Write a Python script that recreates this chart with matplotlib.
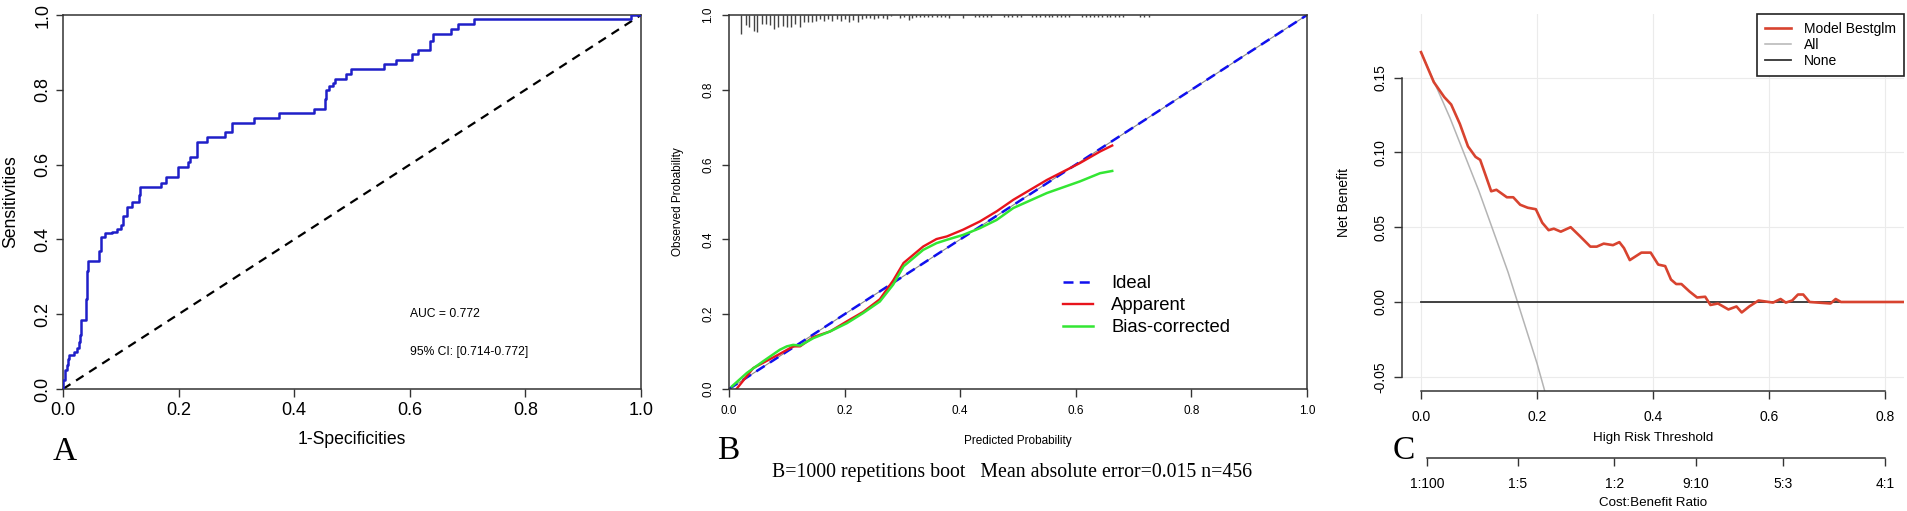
import matplotlib
matplotlib.use('Agg')
import matplotlib.pyplot as plt
from matplotlib.ticker import FormatStrFormatter

plt.rcParams['font.family'] = ['Liberation Sans', 'DejaVu Sans']

# ---- panel A: ROC (x where the step happens, tpr after the step)
roc_fpr = [0.0, 0.0, 0.003, 0.007, 0.009, 0.011, 0.019, 0.024, 0.027, 0.029, 0.031,
           0.039, 0.041, 0.044, 0.063, 0.065, 0.073, 0.084, 0.093, 0.100, 0.103,
           0.110, 0.120, 0.131, 0.133, 0.170, 0.178, 0.199, 0.217, 0.219, 0.231,
           0.250, 0.281, 0.293, 0.330, 0.373, 0.434, 0.453, 0.455, 0.460, 0.467,
           0.470, 0.490, 0.499, 0.556, 0.576, 0.603, 0.615, 0.635, 0.640, 0.671,
           0.684, 0.711, 0.983, 1.0]
roc_tpr = [0.0, 0.025, 0.05, 0.065, 0.08, 0.09, 0.10, 0.11, 0.125, 0.145, 0.185,
           0.24, 0.315, 0.343, 0.37, 0.407, 0.417, 0.42, 0.428, 0.438, 0.462,
           0.487, 0.50, 0.52, 0.541, 0.552, 0.567, 0.593, 0.607, 0.62, 0.66,
           0.673, 0.686, 0.711, 0.724, 0.738, 0.75, 0.775, 0.80, 0.81, 0.818,
           0.828, 0.842, 0.855, 0.869, 0.88, 0.895, 0.907, 0.93, 0.948, 0.962,
           0.975, 0.989, 1.0, 1.0]
auc_text = 'AUC = 0.772'
ci_text = '95% CI: [0.714-0.772]'

# ---- panel B: calibration
app_x = [0.013, 0.042, 0.088, 0.111, 0.123, 0.146, 0.175, 0.204, 0.232, 0.261, 0.284,
         0.302, 0.319, 0.336, 0.359, 0.377, 0.405, 0.434, 0.463, 0.492, 0.550,
         0.607, 0.642, 0.663]
app_y = [0.0, 0.056, 0.094, 0.114, 0.114, 0.139, 0.154, 0.181, 0.206, 0.240, 0.290,
         0.337, 0.359, 0.381, 0.401, 0.408, 0.426, 0.448, 0.475, 0.506, 0.559,
         0.604, 0.635, 0.651]
bc_x = [0.005, 0.031, 0.059, 0.088, 0.100, 0.111, 0.123, 0.146, 0.175, 0.204, 0.232,
        0.261, 0.284, 0.302, 0.319, 0.336, 0.359, 0.377, 0.405, 0.434, 0.463,
        0.492, 0.550, 0.607, 0.642, 0.663]
bc_y = [0.007, 0.043, 0.074, 0.105, 0.114, 0.118, 0.116, 0.136, 0.154, 0.176, 0.203,
        0.234, 0.279, 0.328, 0.350, 0.372, 0.390, 0.399, 0.412, 0.430, 0.452,
        0.484, 0.524, 0.555, 0.577, 0.583]
ideal_x = [0.0, 1.0]
ideal_y = [0.0, 1.0]
rug_x = [0.020, 0.029, 0.035, 0.043, 0.049, 0.057, 0.064, 0.071, 0.078, 0.085, 0.093,
         0.100, 0.107, 0.114, 0.122, 0.129, 0.136, 0.143, 0.150, 0.157, 0.165,
         0.172, 0.179, 0.186, 0.194, 0.201, 0.208, 0.215, 0.223, 0.230, 0.237,
         0.244, 0.251, 0.258, 0.266, 0.273, 0.280, 0.296, 0.302, 0.311, 0.316,
         0.324, 0.331, 0.338, 0.345, 0.352, 0.359, 0.367, 0.374, 0.381, 0.404,
         0.426, 0.433, 0.440, 0.447, 0.454, 0.476, 0.483, 0.490, 0.498, 0.505,
         0.524, 0.531, 0.538, 0.546, 0.553, 0.559, 0.567, 0.575, 0.581, 0.588,
         0.610, 0.617, 0.625, 0.631, 0.639, 0.646, 0.654, 0.660, 0.668, 0.675,
         0.682, 0.711, 0.718, 0.726]
rug_h = [0.051, 0.027, 0.031, 0.043, 0.045, 0.024, 0.024, 0.027, 0.037, 0.031, 0.029,
         0.031, 0.033, 0.024, 0.033, 0.020, 0.018, 0.018, 0.016, 0.011, 0.016,
         0.011, 0.016, 0.011, 0.016, 0.011, 0.020, 0.013, 0.020, 0.011, 0.009,
         0.009, 0.011, 0.009, 0.009, 0.011, 0.003, 0.009, 0.006, 0.013, 0.009,
         0.006, 0.0045, 0.0045, 0.006, 0.0045, 0.006, 0.0045, 0.006, 0.009, 0.009,
         0.0045, 0.0045, 0.0045, 0.0045, 0.0045, 0.0045, 0.0045, 0.0045, 0.0045, 0.0045,
         0.005, 0.005, 0.005, 0.005, 0.005, 0.005, 0.005, 0.005, 0.005, 0.005,
         0.005, 0.005, 0.005, 0.005, 0.005, 0.005, 0.005, 0.005, 0.005, 0.005,
         0.005, 0.005, 0.005, 0.005]
calib_note = 'B=1000 repetitions boot   Mean absolute error=0.015 n=456'

# ---- panel C: decision curve
dca_x = [0.0, 0.022, 0.040, 0.052, 0.067, 0.081, 0.094, 0.102, 0.112, 0.121, 0.130,
         0.148, 0.159, 0.171, 0.184, 0.198, 0.209, 0.220, 0.229, 0.241, 0.258,
         0.274, 0.292, 0.303, 0.315, 0.331, 0.342, 0.350, 0.360, 0.380, 0.396,
         0.409, 0.421, 0.431, 0.440, 0.449, 0.463, 0.476, 0.490, 0.499, 0.512,
         0.530, 0.544, 0.553, 0.566, 0.582, 0.607, 0.620, 0.629, 0.640, 0.650,
         0.659, 0.670, 0.706, 0.715, 0.724, 0.840]
dca_model = [0.167, 0.147, 0.137, 0.132, 0.119, 0.104, 0.097, 0.095, 0.084, 0.074, 0.075,
             0.070, 0.070, 0.065, 0.063, 0.062, 0.053, 0.048, 0.049, 0.047, 0.050,
             0.044, 0.037, 0.037, 0.039, 0.038, 0.040, 0.036, 0.028, 0.033, 0.033,
             0.025, 0.024, 0.015, 0.012, 0.012, 0.007, 0.003, 0.0035, -0.002, -0.001,
             -0.005, -0.003, -0.007, -0.003, 0.001, -0.0004, 0.002, -0.0004, 0.001, 0.005,
             0.005, 0.0, -0.001, 0.002, 0.0, 0.0]
all_x = [0.0, 0.05, 0.10, 0.15, 0.20, 0.213]
all_y = [0.167, 0.123, 0.074, 0.020, -0.041, -0.059]
none_x = [0.0, 0.840]
none_y = [0.0, 0.0]
cb_labels = ['1:100', '1:5', '1:2', '9:10', '5:3', '4:1']
cb_cost = [1, 1, 1, 9, 5, 4]
cb_benefit = [100, 5, 2, 10, 3, 1]

W, H = 1908, 511
fig = plt.figure(figsize=(W / 100, H / 100), dpi=100)


def px_box(l, t, r, b):
    return [l / W, 1 - b / H, (r - l) / W, (b - t) / H]


# ================= A =================
axA = fig.add_axes(px_box(63, 15, 641, 389))
axA.plot(roc_fpr, roc_tpr, drawstyle='steps-post', color='#1f1fc8', lw=1.8, zorder=3)
axA.plot([0, 1], [0, 1], color='black', lw=1.6, dashes=(4, 3))
axA.set_xlim(0, 1)
axA.set_ylim(0, 1)
axA.set_xticks([0, 0.2, 0.4, 0.6, 0.8, 1.0])
axA.set_yticks([0, 0.2, 0.4, 0.6, 0.8, 1.0])
axA.xaxis.set_major_formatter(FormatStrFormatter('%.1f'))
axA.yaxis.set_major_formatter(FormatStrFormatter('%.1f'))
axA.tick_params(length=5.4, width=1, labelsize=13, color='#333333')
axA.tick_params(axis='x', pad=4)
axA.tick_params(axis='y', pad=3, labelrotation=90)
for lab in axA.get_yticklabels():
    lab.set_va('center')
for s in axA.spines.values():
    s.set_color('#333333')
    s.set_linewidth(1.1)
axA.set_xlabel('1-Specificities', fontsize=12.7)
axA.xaxis.set_label_coords(0.5, -0.136)
axA.xaxis.label.set_va('center')
axA.set_ylabel('Sensitivities', fontsize=12.7)
axA.yaxis.set_label_coords(-0.091, 0.5)
axA.yaxis.label.set_va('center')
axA.text(0.6, 0.2, auc_text, fontsize=8.7, ha='left', va='center')
axA.text(0.6, 0.1, ci_text, fontsize=8.7, ha='left', va='center')

# ================= B =================
axB = fig.add_axes(px_box(729, 15, 1307, 389))
axB.vlines(rug_x, [1 - h for h in rug_h], 1, color='#444444', lw=1)
axB.plot(ideal_x, ideal_y, color='#888888', lw=0.8)
l_ideal, = axB.plot(ideal_x, ideal_y, color='#1010ee', lw=1.8, dashes=(4, 2.5))
l_app, = axB.plot(app_x, app_y, color='#e8141c', lw=1.7)
l_bc, = axB.plot(bc_x, bc_y, color='#33e633', lw=1.8)
axB.set_xlim(0, 1)
axB.set_ylim(0, 1)
axB.set_xticks([0, 0.2, 0.4, 0.6, 0.8, 1.0])
axB.set_yticks([0, 0.2, 0.4, 0.6, 0.8, 1.0])
axB.xaxis.set_major_formatter(FormatStrFormatter('%.1f'))
axB.yaxis.set_major_formatter(FormatStrFormatter('%.1f'))
axB.tick_params(length=5.4, width=1, labelsize=8.5, color='#333333')
axB.tick_params(axis='x', pad=6.3)
axB.tick_params(axis='y', pad=5.4, labelrotation=90)
for lab in axB.get_yticklabels():
    lab.set_va('center')
for s in axB.spines.values():
    s.set_color('#333333')
    s.set_linewidth(1.1)
axB.set_xlabel('Predicted Probability', fontsize=8.5)
axB.xaxis.set_label_coords(0.5, -0.139)
axB.xaxis.label.set_va('center')
axB.set_ylabel('Observed Probability', fontsize=8.5)
axB.yaxis.set_label_coords(-0.088, 0.5)
axB.yaxis.label.set_va('center')
axB.legend([l_ideal, l_app, l_bc], ['Ideal', 'Apparent', 'Bias-corrected'],
           loc='upper left', bbox_to_anchor=(1063 / W, 1 - 275.5 / H),
           bbox_transform=fig.transFigure, frameon=False, fontsize=13.3,
           handlelength=1.6, handletextpad=1.0, labelspacing=0.27,
           borderpad=0, borderaxespad=0)

# ================= C =================
axC = fig.add_axes(px_box(1402, 14, 1904, 391))
axC.grid(True, color='#ebebeb', lw=0.8, zorder=0)
axC.set_axisbelow(True)
axC.plot(all_x, all_y, color='#b4b4b4', lw=1.1, label='All', zorder=2)
axC.plot(none_x, none_y, color='#333333', lw=1.3, label='None', zorder=2)
axC.plot(dca_x, dca_model, color='#d8432f', lw=1.9, label='Model Bestglm', zorder=3)
axC.set_xlim(-0.0328, 0.8328)
axC.set_ylim(-0.0595, 0.1925)
axC.set_xticks([0, 0.2, 0.4, 0.6, 0.8])
axC.set_yticks([-0.05, 0, 0.05, 0.10, 0.15])
axC.xaxis.set_major_formatter(FormatStrFormatter('%.1f'))
axC.yaxis.set_major_formatter(FormatStrFormatter('%.2f'))
axC.spines['top'].set_visible(False)
axC.spines['right'].set_visible(False)
axC.spines['left'].set_bounds(-0.05, 0.15)
axC.spines['bottom'].set_bounds(0, 0.8)
for s in ('left', 'bottom'):
    axC.spines[s].set_color('#333333')
    axC.spines[s].set_linewidth(1.1)
axC.tick_params(length=5.6, width=1, labelsize=10, color='#333333')
axC.tick_params(axis='x', pad=8)
axC.tick_params(axis='y', pad=4.6, labelrotation=90)
for lab in axC.get_yticklabels():
    lab.set_va('center')
axC.set_xlabel('High Risk Threshold', fontsize=9.6)
axC.xaxis.set_label_coords(0.5, -0.125)
axC.xaxis.label.set_va('center')
axC.set_ylabel('Net Benefit', fontsize=10)
axC.yaxis.set_label_coords(-0.1155, 0.5)
axC.yaxis.label.set_va('center')
h, l = axC.get_legend_handles_labels()
order = [2, 0, 1]
legC = axC.legend([h[i] for i in order], [l[i] for i in order], loc='upper right',
                  fontsize=10, frameon=True, fancybox=False, edgecolor='#222222',
                  framealpha=1, handlelength=1.87, handletextpad=0.9,
                  labelspacing=0.12, borderpad=0.6, borderaxespad=0)
legC.get_frame().set_linewidth(1.2)

# cost:benefit axis under panel C
axCB = fig.add_axes(px_box(1402, 457, 1904, 458))
axCB.patch.set_visible(False)
for s in ('left', 'right', 'top'):
    axCB.spines[s].set_visible(False)
axCB.spines['bottom'].set_color('#333333')
axCB.spines['bottom'].set_linewidth(1.1)
axCB.set_xlim(axC.get_xlim())
axCB.set_yticks([])
cb_pos = [c / (c + b) for c, b in zip(cb_cost, cb_benefit)]
axCB.spines['bottom'].set_bounds(cb_pos[0], cb_pos[-1])
axCB.set_xticks(cb_pos)
axCB.set_xticklabels(cb_labels)
axCB.tick_params(axis='x', length=5.8, width=1, labelsize=10, pad=8, color='#333333')
fig.text(1653 / W, 1 - 503 / H, 'Cost:Benefit Ratio', fontsize=9.6, ha='center', va='center')

# panel letters and footnote
serif = ['Liberation Serif', 'DejaVu Serif']
fig.text(64.5 / W, 1 - 460 / H, 'A', family=serif, fontsize=24, ha='center', va='baseline')
fig.text(728 / W, 1 - 459 / H, 'B', family=serif, fontsize=24, ha='center', va='baseline')
fig.text(1403.5 / W, 1 - 459 / H, 'C', family=serif, fontsize=24, ha='center', va='baseline')
fig.text(1012 / W, 1 - 476.5 / H, calib_note, family=serif, fontsize=14.3,
         ha='center', va='baseline')

fig.savefig('out.png', dpi=100)
